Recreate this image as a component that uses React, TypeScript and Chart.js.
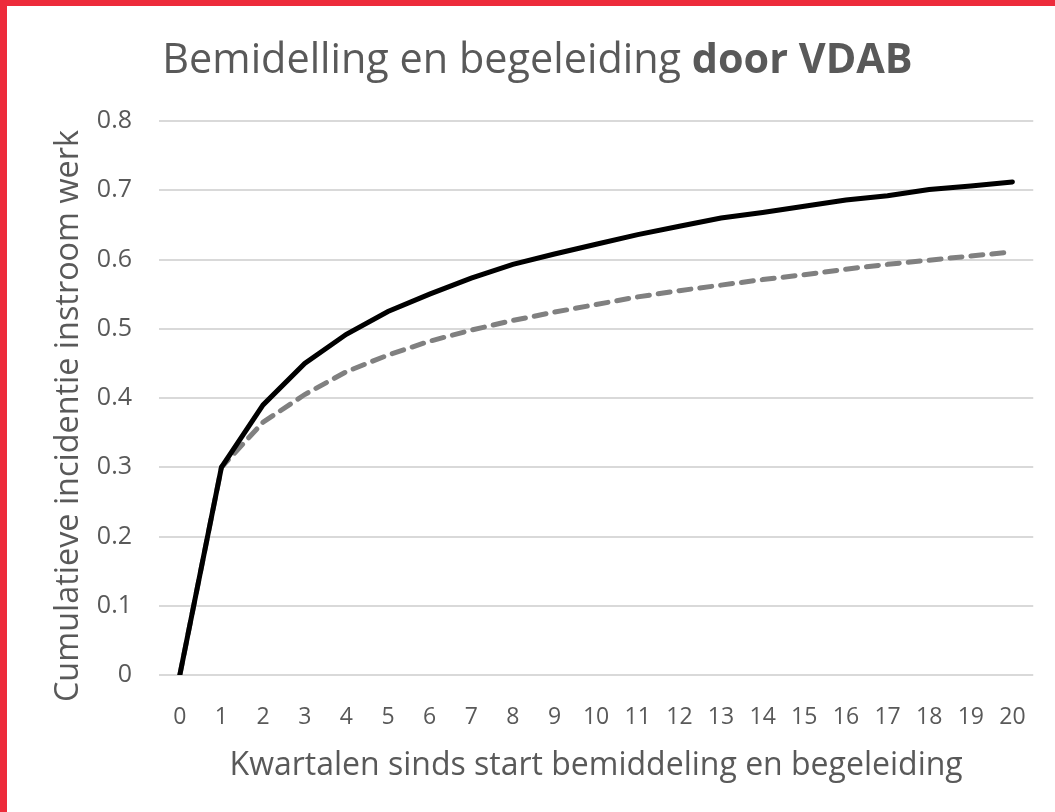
import React, { useEffect, useRef } from "react";
import { Chart, registerables } from "chart.js";

Chart.register(...registerables);

const quarters = ["0","1","2","3","4","5","6","7","8","9","10","11","12","13","14","15","16","17","18","19","20"];
const vdabValues = [0, 0.30, 0.39, 0.45, 0.492, 0.525, 0.55, 0.573, 0.593, 0.608, 0.622, 0.636, 0.648, 0.66, 0.668, 0.677, 0.686, 0.692, 0.701, 0.706, 0.712];
const controlValues = [0, 0.30, 0.365, 0.405, 0.438, 0.462, 0.482, 0.498, 0.512, 0.524, 0.535, 0.546, 0.555, 0.563, 0.571, 0.578, 0.586, 0.593, 0.599, 0.605, 0.611];
const titleNormal = "Bemidelling en begeleiding ";
const titleBold = "door VDAB";
const yTitle = "Cumulatieve incidentie instroom werk";
const xTitle = "Kwartalen sinds start bemiddeling en begeleiding";

const FONT = "'Open Sans', sans-serif";
const TEXT = "#595959";

const textPlugin = {
  id: "customTexts",
  afterDraw(chart: any) {
    const ctx = chart.ctx;
    ctx.save();
    ctx.fillStyle = TEXT;
    ctx.textBaseline = "alphabetic";
    ctx.textAlign = "left";
    // main title with bold tail
    const size = 41.4;
    ctx.font = `normal ${size}px ${FONT}`;
    const w1 = ctx.measureText(titleNormal).width;
    ctx.font = `bold ${size}px ${FONT}`;
    const w2 = ctx.measureText(titleBold).width;
    const x0 = 530.5 - (w1 + w2) / 2;
    const y = 67;
    ctx.font = `normal ${size}px ${FONT}`;
    ctx.fillText(titleNormal, x0, y);
    ctx.font = `bold ${size}px ${FONT}`;
    ctx.fillText(titleBold, x0 + w1, y);
    // y axis title
    ctx.translate(71, 410);
    ctx.rotate(-Math.PI / 2);
    ctx.textAlign = "center";
    ctx.font = `normal 32.4px ${FONT}`;
    ctx.fillText(yTitle, 0, 0);
    ctx.restore();
  },
};

export default function App() {
  const ref = useRef<HTMLCanvasElement>(null);
  useEffect(() => {
    document.body.style.margin = "0";
    const chart = new Chart(ref.current!, {
      type: "line",
      data: {
        labels: quarters,
        datasets: [
          {
            label: "VDAB",
            data: vdabValues,
            borderColor: "#000000",
            borderWidth: 5,
            borderCapStyle: "round",
            pointRadius: 0,
            tension: 0,
            fill: false,
          },
          {
            label: "Controle",
            data: controlValues,
            borderColor: "#808080",
            borderWidth: 5,
            borderDash: [12, 9],
            borderCapStyle: "round",
            pointRadius: 0,
            tension: 0,
            fill: false,
          },
        ],
      },
      options: {
        animation: false,
        responsive: false,
        maintainAspectRatio: false,
        layout: { padding: { top: 115, right: 18, bottom: 0, left: 0 } },
        plugins: {
          legend: { display: false },
          title: { display: false },
          tooltip: { enabled: false },
        },
        scales: {
          x: {
            type: "category",
            offset: true,
            grid: { display: false, drawTicks: false },
            border: { display: false },
            ticks: {
              color: TEXT,
              font: { family: FONT, size: 23 },
              padding: 29,
              maxRotation: 0,
              autoSkip: false,
            },
            title: {
              display: true,
              text: xTitle,
              color: TEXT,
              font: { family: FONT, size: 32 },
              padding: { top: 0, bottom: 27 },
            },
            afterFit(scale: any) {
              scale.height = 137;
            },
          },
          y: {
            min: 0,
            max: 0.8,
            grid: { color: "#d9d9d9", lineWidth: 2, drawTicks: false },
            border: { display: false },
            ticks: {
              stepSize: 0.1,
              color: TEXT,
              font: { family: FONT, size: 25 },
              padding: 27,
              callback: (v: any) => {
                const n = Math.round(Number(v) * 10) / 10;
                return n === 0 ? "0" : n.toFixed(1);
              },
            },
            title: { display: false },
            afterFit(scale: any) {
              scale.width = 152;
            },
          },
        },
      },
      plugins: [textPlugin],
    });
    return () => chart.destroy();
  }, []);
  return (
    <div
      style={{
        position: "fixed",
        left: 0,
        top: 0,
        width: 1055,
        height: 812,
        boxSizing: "border-box",
        background: "#ffffff",
        borderLeft: "7px solid #ED2B3B",
        borderTop: "6px solid #ED2B3B",
      }}
    >
      <canvas ref={ref} width={1048} height={806} style={{ display: "block" }} />
    </div>
  );
}
